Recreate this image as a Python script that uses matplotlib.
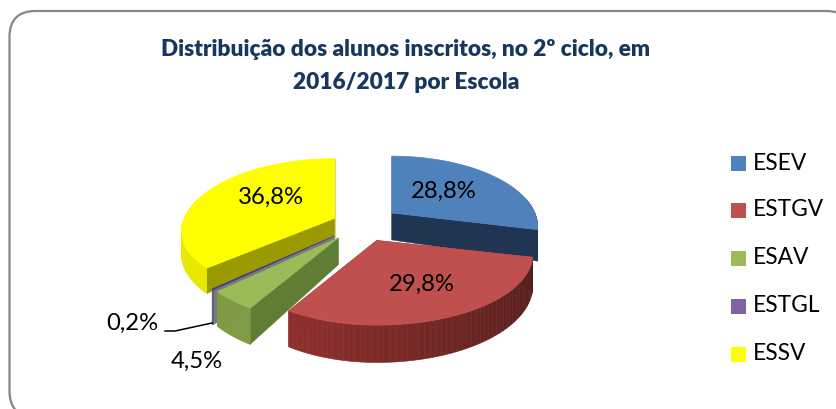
import numpy as np
import matplotlib
matplotlib.use('Agg')
import matplotlib.pyplot as plt
from matplotlib.colors import to_rgb
from matplotlib.patches import FancyBboxPatch, Polygon, Rectangle

plt.rcParams['font.family'] = ['Lato', 'DejaVu Sans']

title = 'Distribuição dos alunos inscritos, no 2º ciclo, em\n2016/2017 por Escola'
escolas = ['ESEV', 'ESTGV', 'ESAV', 'ESTGL', 'ESSV']
valores = [28.8, 29.8, 4.5, 0.2, 36.8]
rotulos = ['28,8%', '29,8%', '4,5%', '0,2%', '36,8%']

cores = ['#4F81BD', '#C0504D', '#9BBB59', '#8064A2', '#FFFF00']
topo = ['#4F81BD', '#C0504D', '#9BBB59', '#4B3A78', '#FFFF00']
corte = ['#1F3552', '#7A2A28', '#5F7D33', '#77778A', '#999900']
lado_ini = ['#1F3552', '#4F1E1C', '#7F9B45', '#5F6270', '#E8E800']
lado_fim = ['#1F3552', '#8F302E', '#7F9B45', '#5F6270', '#E8E800']
explode = [38, 38, 38, 38, 30]
escala = [1, 1, 1, 1, 1.05]
escala_dir = [1, 1.07, 1, 1, 1]
escala_frente = [1, 1, 1, 1, 0.9]
prof = [30, 30, 30, 30, 22]

# geometria da tarte em pixeis
cx, cy = 362, 224
R, ry, k = 143, 68, 0.197


def proj(ox, oy, graus, i):
    t = np.radians(graus)
    f = 1 / (1 + k * np.cos(t))
    dx = R * np.sin(t) * f * escala[i]
    dy = -ry * np.cos(t) * f * escala[i]
    if dx > 0:
        dx *= escala_dir[i]
    if dy > 0:
        dy *= escala_frente[i]
    return ox + dx, oy + dy, f


def mistura(c1, c2, a):
    c1 = np.array(to_rgb(c1))
    c2 = np.array(to_rgb(c2))
    return tuple(c1 + (c2 - c1) * a)


fig = plt.figure(figsize=(8.36, 4.09), dpi=100)
ax = fig.add_axes([0, 0, 1, 1])
ax.set_xlim(0, 836)
ax.set_ylim(409, 0)
ax.axis('off')

# moldura: sai um pouco para fora da imagem, a direita e em baixo
ax.add_patch(FancyBboxPatch((9.5 + 26, 11 + 26), 842.5 - 52, 406 - 52,
                            boxstyle='round,pad=26,rounding_size=26',
                            fc='white', ec='#868686', lw=1.6, clip_on=False))

ax.text(406, 66, title, ha='center', va='center', fontsize=16.3, fontweight=800,
        color='#17375E', linespacing=1.65)

# angulos de cada fatia, sentido horario a partir do topo
fim = np.cumsum(valores) / np.sum(valores) * 360
ini = np.concatenate([[0], fim[:-1]])

# ordem de desenho: de tras para a frente
for z, i in enumerate([4, 3, 2, 0, 1]):
    zo = 2 + z
    meio = np.radians((ini[i] + fim[i]) / 2)
    ox = cx + explode[i] * np.sin(meio)
    oy = cy - explode[i] * 0.47 * np.cos(meio)
    ang = np.linspace(ini[i], fim[i], 60)
    borda = [proj(ox, oy, a, i) for a in ang]
    d = prof[i]

    # faces de corte
    for a in [ini[i], fim[i]]:
        x, y, f = proj(ox, oy, a, i)
        ax.add_patch(Polygon([(ox, oy), (x, y), (x, y + d * f), (ox, oy + d * 0.9)],
                             fc=corte[i], ec=corte[i], lw=0.3, zorder=zo))

    # parede exterior, em pequenos quadrilateros para o degrade
    for j in range(len(ang) - 1):
        if np.cos(np.radians(ang[j])) > 0.25:
            continue
        x0, y0, f0 = borda[j]
        x1, y1, f1 = borda[j + 1]
        cor = mistura(lado_ini[i], lado_fim[i], j / (len(ang) - 2))
        ax.add_patch(Polygon([(x0, y0), (x1, y1), (x1, y1 + d * f1), (x0, y0 + d * f0)],
                             fc=cor, ec=cor, lw=0.4, zorder=zo))

    # topo
    pts = [(ox, oy)] + [(p[0], p[1]) for p in borda]
    ax.add_patch(Polygon(pts, fc=topo[i], ec=topo[i], lw=0.5, zorder=zo))

pos_rotulos = [(444, 191), (422, 284), (197, 361), (132, 323), (271, 197)]
for txt, (x, y) in zip(rotulos, pos_rotulos):
    ax.text(x, y, txt, ha='center', va='center', fontsize=17.2, color='black', zorder=10)

# linha de chamada do 0,2%
ax.plot([165, 175, 212], [331, 331, 323], color='black', lw=1.1, zorder=10)

# legenda
for nome, cor, y in zip(escolas, cores, [163, 210, 258, 306, 354]):
    ax.add_patch(Rectangle((731, y - 7.5), 15, 15, fc=cor, ec='none'))
    ax.text(753, y, nome, ha='left', va='center', fontsize=16.4, color='black')

fig.savefig('out.png', dpi=100)
